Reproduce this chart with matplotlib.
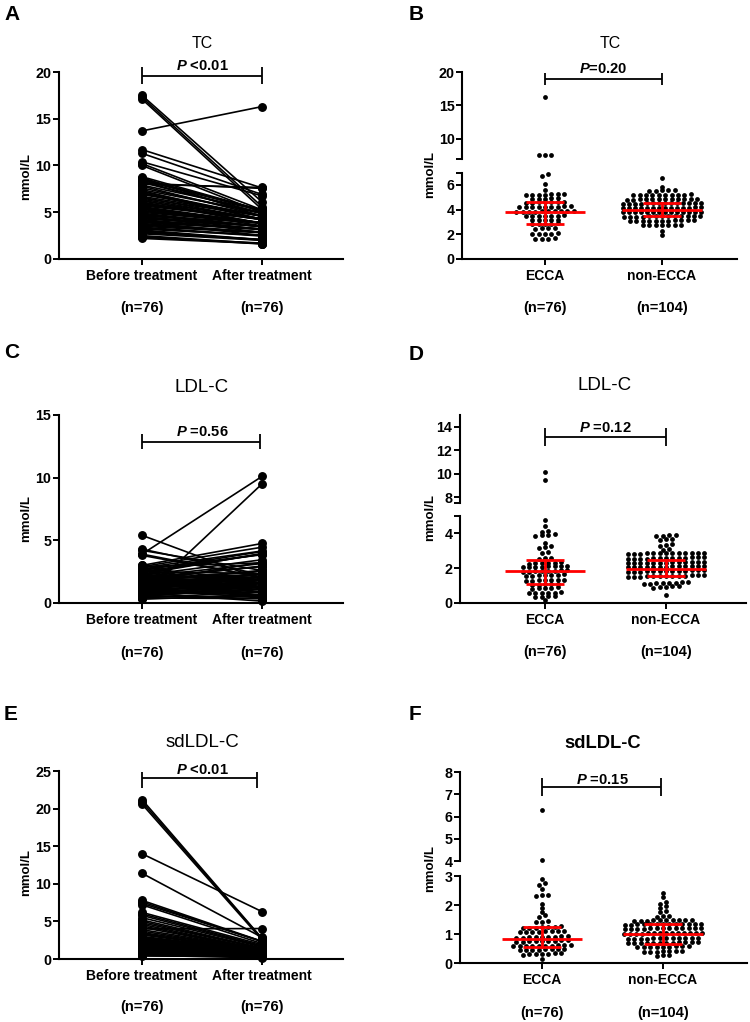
import numpy as np
import matplotlib
matplotlib.use("Agg")
import matplotlib.pyplot as plt
from matplotlib import transforms

plt.rcParams['font.family'] = ['Liberation Sans', 'DejaVu Sans']
plt.rcParams['mathtext.fontset'] = 'custom'
plt.rcParams['mathtext.it'] = 'Liberation Sans:italic:bold'
plt.rcParams['mathtext.rm'] = 'Liberation Sans:bold'
plt.rcParams['mathtext.bf'] = 'Liberation Sans:bold'

# ---------------- data ----------------
groups_paired = ["Before treatment", "After treatment"]
groups_swarm = ["ECCA", "non-ECCA"]
n_paired = ["(n=76)", "(n=76)"]
n_swarm = ["(n=76)", "(n=104)"]

# TC (after treatment values = ECCA group of panel B)
tc_after = [16.3, 7.65, 7.6, 7.55, 6.9, 6.75, 6.1, 5.6, 5.3, 5.25, 5.2, 5.2, 5.15, 5.2, 5.25,
            4.95, 4.9, 4.85, 4.9, 4.95, 4.6, 4.55, 4.6, 4.65, 4.6, 4.55, 4.6,
            4.25, 4.2, 4.3, 4.25, 4.2, 4.25, 4.3, 4.2, 4.25,
            3.85, 3.8, 3.85, 3.9, 3.8, 3.85, 3.8, 3.9, 3.85, 3.8,
            3.5, 3.45, 3.5, 3.55, 3.45, 3.5, 3.5,
            3.2, 3.15, 3.2, 3.2, 3.15,
            2.85, 2.8, 2.85, 2.9, 2.8,
            2.5, 2.45, 2.5, 2.55,
            2.05, 2.0, 2.05, 2.1, 2.0,
            1.65, 1.6, 1.7, 1.65]
tc_before = [13.7, 8.0, 11.7, 8.1, 11.3, 10.4, 17.5, 17.3, 17.1, 10.2, 8.8, 8.6, 8.5, 7.9, 8.4,
             10.0, 8.3, 7.6, 8.2, 7.4, 7.8, 7.2, 7.0, 6.9, 6.7, 8.7, 6.5,
             7.3, 6.4, 6.2, 7.1, 6.0, 5.9, 5.8, 6.6, 5.7,
             5.6, 6.3, 5.5, 5.4, 6.1, 5.3, 5.2, 4.6, 5.1, 5.0,
             4.9, 4.8, 4.5, 5.5, 4.7, 4.4, 4.3,
             4.2, 4.1, 4.5, 4.0, 3.9,
             3.8, 4.6, 3.7, 3.6, 3.5,
             3.4, 3.3, 4.0, 3.2,
             3.1, 3.0, 2.9, 2.8, 2.7,
             2.5, 2.4, 2.3, 2.2]
tc_nonecca = [6.6, 5.85,
              5.55, 5.52, 5.58, 5.55, 5.5,
              5.2, 5.22, 5.18, 5.2, 5.23, 5.17, 5.2, 5.22, 5.18, 5.2,
              4.85, 4.87, 4.83, 4.85, 4.88, 4.82, 4.85, 4.87, 4.83, 4.85, 4.88, 4.82,
              4.5, 4.52, 4.48, 4.5, 4.53, 4.47, 4.5, 4.52, 4.48, 4.5, 4.53, 4.47, 4.5, 4.52,
              4.15, 4.17, 4.13, 4.15, 4.18, 4.12, 4.15, 4.17, 4.13, 4.15, 4.18, 4.12, 4.15, 4.17,
              3.8, 3.82, 3.78, 3.8, 3.83, 3.77, 3.8, 3.82, 3.78, 3.8, 3.83, 3.77, 3.8, 3.82,
              3.45, 3.47, 3.43, 3.45, 3.48, 3.42, 3.45, 3.47, 3.43, 3.45, 3.48, 3.42, 3.45,
              3.1, 3.12, 3.08, 3.1, 3.13, 3.07, 3.1, 3.12, 3.08, 3.1, 3.13,
              2.75, 2.77, 2.73, 2.75, 2.78, 2.72, 2.75,
              2.25, 1.95]

# LDL-C
ldl_after = [10.1, 9.5, 4.75, 4.45, 4.15, 4.1, 3.9, 3.9, 3.85, 3.95, 3.45,
             3.2, 3.15, 3.25, 2.95, 2.9, 2.6, 2.6, 2.55,
             2.3, 2.3, 2.35, 2.3, 2.25, 2.3,
             2.1, 2.05, 2.1, 2.05, 2.1, 2.05, 2.1, 2.05,
             1.85, 1.8, 1.85, 1.9, 1.85, 1.8, 1.85, 1.9,
             1.6, 1.55, 1.6, 1.65, 1.6, 1.55, 1.6,
             1.3, 1.25, 1.3, 1.35, 1.3, 1.25, 1.3,
             1.1, 1.05, 1.1, 1.05, 1.1,
             0.85, 0.8, 0.85, 0.9, 0.85,
             0.6, 0.55, 0.6, 0.65, 0.6, 0.55,
             0.35, 0.4, 0.35, 0.4,
             0.15]
ldl_before = [3.9, 0.5, 3.0, 2.9, 2.8, 2.6, 2.5, 2.4, 2.7, 2.3, 2.2,
              2.9, 2.1, 1.7, 1.9, 2.0, 4.2, 1.8, 1.7,
              1.9, 1.6, 2.5, 1.5, 4.3, 1.4,
              1.3, 3.9, 1.2, 2.2, 1.1, 3.8, 1.0, 2.0,
              5.4, 0.9, 1.8, 2.1, 0.8, 1.6, 2.7, 1.3,
              1.2, 0.7, 2.4, 1.0, 1.5, 0.6, 2.0,
              1.4, 0.9, 2.2, 0.5, 1.7, 1.1, 2.6,
              0.8, 1.9, 0.6, 1.5, 3.0,
              0.7, 1.3, 2.3, 0.4, 1.6,
              1.0, 0.5, 1.8, 0.3, 1.2, 2.1,
              0.4, 1.1, 0.6, 1.7,
              0.8]
ldl_nonecca = [3.9, 3.85, 3.9, 3.85,
               3.65, 3.7, 3.6,
               3.35, 3.3, 3.4,
               3.1, 3.05,
               2.85, 2.9, 2.8, 2.85, 2.9, 2.85, 2.8, 2.85, 2.9, 2.85, 2.8, 2.85, 2.9,
               2.6, 2.55, 2.65, 2.6, 2.55, 2.6, 2.65, 2.6, 2.55, 2.6, 2.65, 2.6, 2.55,
               2.3, 2.35, 2.3, 2.35, 2.3, 2.35, 2.3, 2.35, 2.3, 2.35, 2.3, 2.35, 2.3,
               2.05, 2.1, 2.05, 2.1, 2.05, 2.1, 2.05, 2.1, 2.05, 2.1, 2.05, 2.1, 2.05,
               1.85, 1.8, 1.85, 1.9, 1.85, 1.8, 1.85, 1.9, 1.85, 1.8, 1.85, 1.9, 1.85,
               1.55, 1.6, 1.55, 1.5, 1.55, 1.6, 1.55, 1.5, 1.55, 1.6, 1.55, 1.5, 1.55,
               1.15, 1.2, 1.1, 1.15, 1.2, 1.15, 1.1, 1.15,
               0.95, 0.9, 0.95, 0.85, 0.9,
               0.45]

# sdLDL-C
sd_after = [6.3, 4.05, 2.88, 2.75, 2.7, 2.55, 2.35, 2.3, 2.35, 2.05, 1.9, 1.75, 1.65, 1.6, 1.45, 1.4, 1.4,
            1.25, 1.22, 1.25, 1.28, 1.22, 1.25, 1.22,
            1.1, 1.07, 1.1, 1.07, 1.1, 1.07, 1.1, 1.07,
            0.9, 0.93, 0.9, 0.87, 0.9, 0.93, 0.9, 0.87, 0.9,
            0.75, 0.78, 0.75, 0.72, 0.75, 0.78, 0.75, 0.72, 0.75,
            0.6, 0.63, 0.6, 0.57, 0.6, 0.63, 0.6, 0.57, 0.6, 0.63,
            0.45, 0.48, 0.45, 0.48, 0.45, 0.48, 0.45, 0.48,
            0.3, 0.33, 0.3, 0.27, 0.3, 0.33, 0.3,
            0.15]
sd_before = [14.0, 4.0, 11.4, 21.2, 20.9, 20.6, 7.8, 7.6, 7.4, 7.2, 6.2, 6.0, 5.8, 5.5, 5.2, 5.0, 4.8,
             4.6, 4.4, 4.2, 3.9, 3.7, 3.5, 3.3,
             3.2, 3.0, 2.9, 2.8, 2.7, 2.6, 2.5, 2.4,
             2.3, 2.2, 2.1, 2.0, 1.9, 1.8, 1.7, 1.6, 3.4,
             1.5, 1.4, 1.3, 1.2, 1.1, 1.0, 2.4, 1.9, 0.9,
             0.8, 1.6, 1.2, 0.7, 2.1, 1.0, 1.4, 0.6, 1.7, 0.9,
             0.5, 1.1, 1.3, 0.8, 1.8, 0.6, 1.5, 0.7,
             0.5, 0.9, 1.0, 0.6, 1.2, 0.4, 0.8,
             0.5]
sd_nonecca = [2.4, 2.28, 2.1, 2.05, 1.95, 1.9, 1.75, 1.78, 1.6, 1.63, 1.62,
              1.48, 1.45, 1.5, 1.47, 1.48, 1.45, 1.5, 1.47, 1.48, 1.46,
              1.33, 1.35, 1.32, 1.34, 1.36, 1.33, 1.35, 1.32, 1.34, 1.36, 1.33, 1.35, 1.34,
              1.2, 1.18, 1.22, 1.2, 1.18, 1.22, 1.2, 1.18, 1.22, 1.2, 1.18, 1.22, 1.2,
              1.02, 1.0, 1.04, 1.02, 1.0, 1.04, 1.02, 1.0, 1.04, 1.02, 1.0, 1.04, 1.02, 1.03,
              0.85, 0.83, 0.87, 0.85, 0.83, 0.87, 0.85, 0.83, 0.87, 0.85, 0.83, 0.87,
              0.7, 0.68, 0.72, 0.7, 0.68, 0.72, 0.7, 0.68, 0.72, 0.7, 0.68, 0.72,
              0.56, 0.54, 0.58, 0.56, 0.54, 0.58, 0.56, 0.54, 0.58,
              0.4, 0.38, 0.41, 0.39, 0.4, 0.38, 0.41,
              0.26, 0.25, 0.27]

# median and interquartile range: [Q1, median, Q3]
tc_stats = [[2.85, 3.8, 4.6], [3.45, 3.95, 4.5]]
ldl_stats = [[1.08, 1.85, 2.45], [1.56, 1.98, 2.5]]
sd_stats = [[0.54, 0.83, 1.25], [0.655, 1.0, 1.33]]

titles = ["TC", "TC", "LDL-C", "LDL-C", "sdLDL-C", "sdLDL-C"]
p_texts = ["$P$ <0.01", "$P$=0.20", "$P$ =0.56", "$P$ =0.12", "$P$ <0.01", "$P$ =0.15"]
panel_letters = ["A", "B", "C", "D", "E", "F"]

# ---------------- figure ----------------
W, H = 750, 1022
fig = plt.figure(figsize=(W / 100, H / 100), dpi=100)
RED = "#ff0000"
TICK_FS = 10.3
XLAB_FS = 10.0
N_FS = 10.5


def fy(px):
    return 1 - px / H


def fx(px):
    return px / W


def add_ax(l, t, r, b):
    ax = fig.add_axes([l / W, 1 - b / H, (r - l) / W, (b - t) / H])
    ax.patch.set_alpha(0)
    for s in ("top", "right"):
        ax.spines[s].set_visible(False)
    for s in ("left", "bottom"):
        ax.spines[s].set_linewidth(1.5)
    ax.tick_params(axis="both", direction="out", length=4.2, width=1.4,
                   labelsize=TICK_FS, pad=1.2)
    ax.tick_params(axis="x", length=4.5, pad=3, labelsize=XLAB_FS)
    return ax


def bold_ticks(ax):
    for lab in ax.get_yticklabels():
        lab.set_fontweight("bold")
        lab.set_fontsize(TICK_FS)
    for lab in ax.get_xticklabels():
        lab.set_fontweight("bold")
        lab.set_fontsize(XLAB_FS)


def bracket(ax, x0, x1, line_px, ttop, tbot, txt, txt_px):
    tr = transforms.blended_transform_factory(ax.transData, fig.transFigure)
    kw = dict(color="k", lw=1.3, transform=tr, clip_on=False, solid_capstyle="butt")
    ax.plot([x0, x1], [fy(line_px)] * 2, **kw)
    ax.plot([x0, x0], [fy(ttop), fy(tbot)], **kw)
    ax.plot([x1, x1], [fy(ttop), fy(tbot)], **kw)
    ax.text(0.5, fy(txt_px), txt, transform=tr, ha="center", va="center",
            fontsize=10.6, fontweight="bold")


def header(letter, lpx, title, tx, ty, tbold, tfs, ylab_x, ylab_y):
    fig.text(fx(lpx[0]), fy(lpx[1]), letter, fontsize=15, fontweight="bold",
             ha="left", va="center")
    fig.text(fx(tx), fy(ty), title, fontsize=tfs,
             fontweight="bold" if tbold else "normal", ha="center", va="center")
    fig.text(fx(ylab_x), fy(ylab_y), "mmol/L", rotation=90, fontsize=9.5,
             fontweight="bold", ha="center", va="center")


def n_labels(ax, labels, n_px):
    tr = transforms.blended_transform_factory(ax.transData, fig.transFigure)
    for i, s in enumerate(labels):
        ax.text(i, fy(n_px), s, transform=tr, ha="center", va="center",
                fontsize=N_FS, fontweight="bold")


def paired_panel(box, cats_px, ymax, yticks, before, after, n_px):
    l, t, r, b = box
    ax = add_ax(l, t, r, b)
    unit = cats_px[1] - cats_px[0]
    ax.set_xlim((l - cats_px[0]) / unit, (r - cats_px[0]) / unit)
    ax.set_ylim(0, ymax)
    ax.set_yticks(yticks)
    ax.set_xticks([0, 1])
    ax.set_xticklabels(groups_paired)
    bold_ticks(ax)
    for bv, av in zip(before, after):
        ax.plot([0, 1], [bv, av], "-o", color="k", lw=1.2, ms=5.4,
                clip_on=False, zorder=3)
    n_labels(ax, n_paired, n_px)
    return ax


def swarm_offsets(vals, to_px, unit_px, spacing=6.4, maxw=78.0, thr=3.2):
    vals = np.asarray(vals, float)
    px = np.array([to_px(v) for v in vals])
    order = np.argsort(-px, kind="stable")
    rows, cur, start = [], [], None
    for i in order:
        if cur and start - px[i] < thr:
            cur.append(i)
        else:
            if cur:
                rows.append(cur)
            cur, start = [i], px[i]
    rows.append(cur)
    offs = np.zeros(len(vals))
    for row in rows:
        n = len(row)
        s = spacing if n <= 1 else min(spacing, maxw / (n - 1))
        for k, i in enumerate(row):
            offs[i] = (k - (n - 1) / 2) * s / unit_px
    return offs


def swarm_panel(l, r, lo_box, hi_box, lo_lim, hi_lim, lo_ticks, lo_labels,
                hi_ticks, hi_labels, cats_px, series, stats, n_px):
    lo_t, lo_b = lo_box
    hi_t, hi_b = hi_box
    ax_lo = add_ax(l, lo_t, r, lo_b)
    ax_hi = add_ax(l, hi_t, r, hi_b)
    unit = cats_px[1] - cats_px[0]
    xl = ((l - cats_px[0]) / unit, (r - cats_px[0]) / unit)
    for a in (ax_lo, ax_hi):
        a.set_xlim(*xl)
    ax_lo.set_ylim(*lo_lim)
    ax_hi.set_ylim(*hi_lim)
    ax_hi.spines["bottom"].set_visible(False)
    ax_hi.set_xticks([])
    ax_lo.set_yticks(lo_ticks)
    ax_lo.set_yticklabels(lo_labels)
    ax_hi.set_yticks(hi_ticks)
    ax_hi.set_yticklabels(hi_labels)
    ax_lo.set_xticks([0, 1])
    ax_lo.set_xticklabels(groups_swarm)
    bold_ticks(ax_lo)
    bold_ticks(ax_hi)

    def to_px(v):
        if v <= lo_lim[1]:
            return lo_b - (v - lo_lim[0]) / (lo_lim[1] - lo_lim[0]) * (lo_b - lo_t)
        return hi_b - (v - hi_lim[0]) / (hi_lim[1] - hi_lim[0]) * (hi_b - hi_t)

    for ci, vals in enumerate(series):
        vals = np.asarray(vals, float)
        offs = swarm_offsets(vals, to_px, unit)
        lo_m = vals <= lo_lim[1]
        ax_lo.scatter(ci + offs[lo_m], vals[lo_m], s=12, color="k",
                      linewidths=0, clip_on=False, zorder=3)
        ax_hi.scatter(ci + offs[~lo_m], vals[~lo_m], s=12, color="k",
                      linewidths=0, clip_on=False, zorder=3)
        q1, med, q3 = stats[ci]
        hw = 40.0 / unit
        cw = 19.0 / unit
        ax_lo.plot([ci - hw, ci + hw], [med, med], color=RED, lw=2.0, zorder=4,
                   solid_capstyle="butt")
        ax_lo.plot([ci, ci], [q1, q3], color=RED, lw=2.0, zorder=4)
        ax_lo.plot([ci - cw, ci + cw], [q1, q1], color=RED, lw=2.0, zorder=4,
                   solid_capstyle="butt")
        ax_lo.plot([ci - cw, ci + cw], [q3, q3], color=RED, lw=2.0, zorder=4,
                   solid_capstyle="butt")
    n_labels(ax_lo, n_swarm, n_px)
    return ax_lo, ax_hi


# ---- Panel A ----
axA = paired_panel((59, 72, 343, 259), (142, 262), 20, [0, 5, 10, 15, 20],
                   tc_before, tc_after, 308)
bracket(axA, 0, 1, 76, 67, 84, p_texts[0], 66)
header(panel_letters[0], (4, 15), titles[0], 202, 43, False, 11.5, 26, 176)

# ---- Panel B ----
axB_lo, axB_hi = swarm_panel(462, 737, (172.6, 259), (72, 159), (0, 7), (7, 20),
                             [0, 2, 4, 6, 7], ["0", "2", "4", "6", ""],
                             [7, 10, 15, 20], ["", "10", "15", "20"],
                             (545, 662), [tc_after, tc_nonecca], tc_stats, 308)
bracket(axB_hi, 0, 1, 79, 73, 85, p_texts[1], 69)
header(panel_letters[1], (409, 15), titles[1], 610, 43, False, 11.5, 430, 175)

# ---- Panel C ----
axC = paired_panel((59, 415, 343, 603), (142, 262), 15, [0, 5, 10, 15],
                   ldl_before, ldl_after, 653)
bracket(axC, 0, 0.98, 442, 434, 449, p_texts[2], 432)
header(panel_letters[2], (4, 353), titles[2], 202, 387, False, 13.5, 26, 518)

# ---- Panel D ----
axD_lo, axD_hi = swarm_panel(460, 746, (516, 603), (415, 503), (0, 5), (7.5, 15),
                             [0, 2, 4, 5], ["0", "2", "4", ""],
                             [7.5, 8, 10, 12, 14], ["", "8", "10", "12", "14"],
                             (545, 666), [ldl_after, ldl_nonecca], ldl_stats, 652)
bracket(axD_hi, 0, 1, 437, 428, 446, p_texts[3], 428)
header(panel_letters[3], (409, 355), titles[3], 605, 386, False, 13.5, 430, 517)

# ---- Panel E ----
axE = paired_panel((59, 771, 343, 959), (142, 262), 25, [0, 5, 10, 15, 20, 25],
                   sd_before, sd_after, 1007)
bracket(axE, 0, 0.96, 778, 772, 788, p_texts[4], 770)
header(panel_letters[4], (4, 715), titles[4], 202, 742, False, 13.5, 26, 872)

# ---- Panel F ----
axF_lo, axF_hi = swarm_panel(460, 747, (876, 963), (772, 861), (0, 3), (4, 8),
                             [0, 1, 2, 3], ["0", "1", "2", "3"],
                             [4, 5, 6, 7, 8], ["4", "5", "6", "7", "8"],
                             (542, 663), [sd_after, sd_nonecca], sd_stats, 1013)
bracket(axF_hi, 0, 0.98, 787, 778, 796, p_texts[5], 780)
header(panel_letters[5], (409, 715), titles[5], 603, 743, True, 13.2, 430, 868)

fig.savefig("out.png", dpi=100)
